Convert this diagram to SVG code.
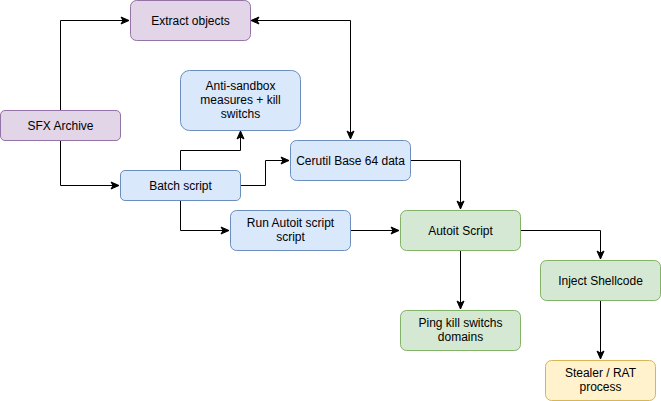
<svg xmlns="http://www.w3.org/2000/svg" width="661" height="401" viewBox="0 0 661 401">
<style>
rect{stroke-width:1}
.p{fill:#e1d5e7;stroke:#9673a6}
.b{fill:#dae8fc;stroke:#6c8ebf}
.g{fill:#d5e8d4;stroke:#82b366}
.y{fill:#fff2cc;stroke:#d6b656}
text{font-family:"Liberation Sans",Arial,sans-serif;font-size:12px;fill:#000;text-anchor:middle}
.c path{fill:none;stroke:#000;stroke-width:1}
</style>
<defs>
<marker id="a" markerWidth="10" markerHeight="10" viewBox="0 0 10 10" refX="9" refY="5" orient="auto-start-reverse" markerUnits="userSpaceOnUse">
<path d="M1,1.5 L9,5 L1,8.5 L3,5 Z" fill="#000" stroke="#000" stroke-width="1"/>
</marker>
</defs>
<g class="c">
<path d="M60.5,110 V20.5 H129" marker-end="url(#a)"/>
<path d="M60.5,140 V185.5 H119" marker-end="url(#a)"/>
<path d="M251,20.5 H350.5 V139" marker-start="url(#a)" marker-end="url(#a)"/>
<path d="M180.5,170 V150.5 H240.5 V131" marker-end="url(#a)"/>
<path d="M240,185.5 H265.5 V160.5 H289" marker-end="url(#a)"/>
<path d="M180.5,200 V230.5 H229" marker-end="url(#a)"/>
<path d="M350,230.5 H399" marker-end="url(#a)"/>
<path d="M410,160.5 H460.5 V209" marker-end="url(#a)"/>
<path d="M520,230.5 H600.5 V259" marker-end="url(#a)"/>
<path d="M460.5,250 V309" marker-end="url(#a)"/>
<path d="M600.5,300 V359" marker-end="url(#a)"/>
</g>
<g id="extract"><rect class="p" x="130.5" y="0.5" width="120" height="40" rx="6"/><text x="190.5" y="25">Extract objects</text></g>
<g id="sfx"><rect class="p" x="0.5" y="110.5" width="120" height="30" rx="4.5"/><text x="60.5" y="130">SFX Archive</text></g>
<g id="antisandbox"><rect class="b" x="180.5" y="70.5" width="120" height="60" rx="9"/><text x="240.5" y="90">Anti-sandbox</text><text x="240.5" y="104">measures + kill</text><text x="240.5" y="118">switchs</text></g>
<g id="batch"><rect class="b" x="120.5" y="170.5" width="120" height="30" rx="4.5"/><text x="180.5" y="190">Batch script</text></g>
<g id="cerutil"><rect class="b" x="290.5" y="140.5" width="120" height="40" rx="6"/><text x="350.5" y="165">Cerutil Base 64 data</text></g>
<g id="runautoit"><rect class="b" x="230.5" y="210.5" width="120" height="40" rx="6"/><text x="290.5" y="227">Run Autoit script</text><text x="290.5" y="241">script</text></g>
<g id="autoit"><rect class="g" x="400.5" y="210.5" width="120" height="40" rx="6"/><text x="460.5" y="235">Autoit Script</text></g>
<g id="ping"><rect class="g" x="400.5" y="310.5" width="120" height="40" rx="6"/><text x="460.5" y="327">Ping kill switchs</text><text x="460.5" y="341">domains</text></g>
<g id="inject"><rect class="g" x="540.5" y="260.5" width="120" height="40" rx="6"/><text x="600.5" y="285">Inject Shellcode</text></g>
<g id="stealer"><rect class="y" x="545.5" y="360.5" width="110" height="40" rx="6"/><text x="600.5" y="377">Stealer / RAT</text><text x="600.5" y="391">process</text></g>
</svg>
